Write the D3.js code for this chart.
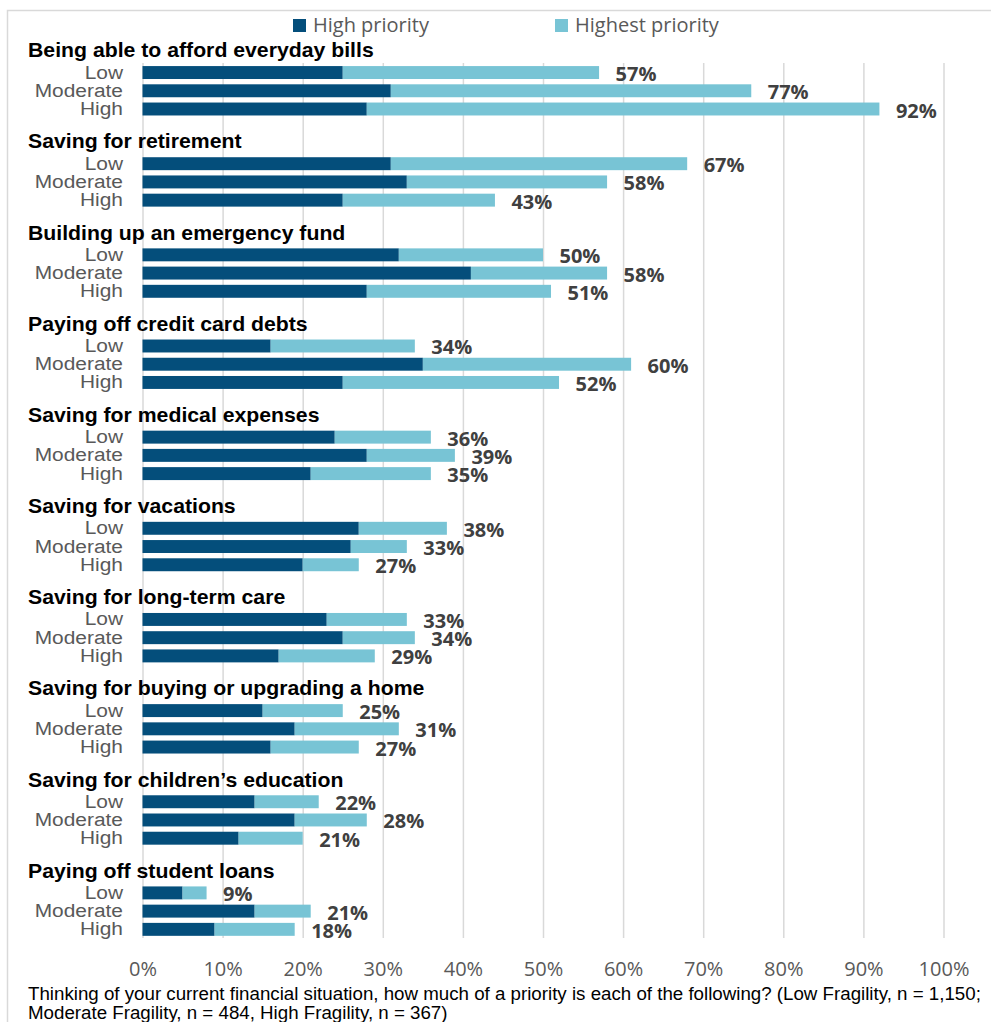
<!DOCTYPE html>
<html lang="en">

<head>
  <meta charset='utf-8'>
  <script src='https://cdn.jsdelivr.net/npm/d3@7/dist/d3.min.js'></script>
  <title>Financial priorities by fragility</title>
  <style>
    body {
      margin: 0;
      background: #fff;
    }

    .frame {
      fill: none;
      stroke: #d9d9d9;
      stroke-width: 1.5px;
    }

    .grid line {
      stroke: #d9d9d9;
      stroke-width: 1.5px;
    }

    .grid path,
    .axis path,
    .axis line {
      display: none;
    }

    .axis text {
      font-family: 'Open Sans', sans-serif;
      font-size: 20px;
      fill: #595959;
    }

    .group-title {
      font-family: 'Liberation Sans', Arial, sans-serif;
      font-weight: bold;
      font-size: 19.5px;
      fill: #000;
    }

    .row-label {
      font-family: 'Liberation Sans', Arial, sans-serif;
      font-size: 19px;
      fill: #595959;
    }

    .total {
      font-family: 'Open Sans', sans-serif;
      font-weight: bold;
      font-size: 20px;
      fill: #404040;
    }

    .legend text {
      font-family: 'Open Sans', sans-serif;
      font-size: 20px;
      fill: #595959;
    }

    .note {
      font-family: 'Liberation Sans', Arial, sans-serif;
      font-size: 17.5px;
      fill: #000;
    }
  </style>
</head>

<body>
  <div id='chart'></div>
  <script>
    // Chart data.

    var groups = [
      'Being able to afford everyday bills',
      'Saving for retirement',
      'Building up an emergency fund',
      'Paying off credit card debts',
      'Saving for medical expenses',
      'Saving for vacations',
      'Saving for long-term care',
      'Saving for buying or upgrading a home',
      'Saving for children\u2019s education',
      'Paying off student loans'
    ];

    var levels = ['Low', 'Moderate', 'High'];

    // "High priority" share per group, for Low / Moderate / High fragility.
    var highPriority = [
      [25, 31, 28],
      [31, 33, 25],
      [32, 41, 28],
      [16, 35, 25],
      [24, 28, 21],
      [27, 26, 20],
      [23, 25, 17],
      [15, 19, 16],
      [14, 19, 12],
      [5, 14, 9]
    ];

    // "Highest priority" share per group.
    var highestPriority = [
      [32, 45, 64],
      [37, 25, 19],
      [18, 17, 23],
      [18, 26, 27],
      [12, 11, 15],
      [11, 7, 7],
      [10, 9, 12],
      [10, 13, 11],
      [8, 9, 8],
      [3, 7, 10]
    ];

    // Totals as printed next to the bars.
    var totalLabels = [
      [57, 77, 92],
      [67, 58, 43],
      [50, 58, 51],
      [34, 60, 52],
      [36, 39, 35],
      [38, 33, 27],
      [33, 34, 29],
      [25, 31, 27],
      [22, 28, 21],
      [9, 21, 18]
    ];

    var xTicks = [0, 10, 20, 30, 40, 50, 60, 70, 80, 90, 100];

    var seriesNames = ['High priority', 'Highest priority'];
    var colors = ['#044e7b', '#78c4d5'];

    var noteLines = [
      'Thinking of your current financial situation, how much of a priority is each of the following? (Low Fragility, n = 1,150;',
      'Moderate Fragility, n = 484, High Fragility, n = 367)'
    ];

    // Flatten into one row per bar.

    var rows = [];
    groups.forEach(function(g, gi) {
      levels.forEach(function(l, li) {
        rows.push({
          group: gi,
          level: l,
          slot: gi * 5 + li + 1,
          high: highPriority[gi][li],
          highest: highestPriority[gi][li],
          label: totalLabels[gi][li]
        });
      });
    });

    var width = 991,
      height = 1022;

    var svg = d3.select('#chart')
      .append('svg')
      .attr('width', width)
      .attr('height', height);

    // Outer frame (only top and left edges are visible).
    svg.append('path')
      .attr('class', 'frame')
      .attr('d', 'M7.5,1030V10.5H1000');

    var xScale = d3.scaleLinear()
      .domain([0, 100])
      .range([142.5, 943.5]);

    // 5 slots per group: title, Low, Moderate, High, gap.
    var yScale = d3.scaleBand()
      .domain(d3.range(groups.length * 5))
      .range([45.2, 956.7])
      .paddingInner(0.29)
      .paddingOuter(0.145);

    var bw = yScale.bandwidth();

    // Gridlines.
    svg.append('g')
      .attr('class', 'grid')
      .attr('transform', 'translate(0,938)')
      .call(d3.axisBottom(xScale)
        .tickValues(xTicks)
        .tickSize(-875)
        .tickFormat(''));

    // Axis labels.
    svg.append('g')
      .attr('class', 'axis')
      .attr('transform', 'translate(0,950)')
      .call(d3.axisBottom(xScale)
        .tickValues(xTicks)
        .tickSize(0)
        .tickPadding(12)
        .tickFormat(function(d) {
          return d + '%';
        }));

    // Stacked bars.
    var stack = d3.stack()
      .keys(['high', 'highest']);

    var series = stack(rows);

    svg.append('g')
      .selectAll('g')
      .data(series)
      .enter()
      .append('g')
      .attr('fill', function(d, i) {
        return colors[i];
      })
      .selectAll('rect')
      .data(function(d) {
        return d;
      })
      .enter()
      .append('rect')
      .attr('x', function(d) {
        return xScale(d[0]);
      })
      .attr('y', function(d) {
        return yScale(d.data.slot);
      })
      .attr('width', function(d) {
        return xScale(d[1]) - xScale(d[0]);
      })
      .attr('height', bw);

    // Total labels.
    svg.append('g')
      .selectAll('text')
      .data(rows)
      .enter()
      .append('text')
      .attr('class', 'total')
      .attr('x', function(d) {
        return xScale(d.high + d.highest) + 16.5;
      })
      .attr('y', function(d) {
        return yScale(d.slot) + bw / 2 + 8.5;
      })
      .text(function(d) {
        return d.label + '%';
      });

    // Row labels (Low / Moderate / High).
    svg.append('g')
      .selectAll('text')
      .data(rows)
      .enter()
      .append('text')
      .attr('class', 'row-label')
      .attr('text-anchor', 'end')
      .attr('transform', function(d) {
        return 'translate(123,' + (yScale(d.slot) + bw / 2 + 6) + ') scale(1.1,1)';
      })
      .text(function(d) {
        return d.level;
      });

    // Group titles.
    svg.append('g')
      .selectAll('text')
      .data(groups)
      .enter()
      .append('text')
      .attr('class', 'group-title')
      .attr('transform', function(d, i) {
        return 'translate(28,' + (yScale(i * 5) + bw / 2 + 3) + ') scale(1.09,1)';
      })
      .text(function(d) {
        return d;
      });

    // Legend.
    var legendX = [293, 555];

    var legend = svg.append('g')
      .attr('class', 'legend')
      .selectAll('g')
      .data(seriesNames)
      .enter()
      .append('g')
      .attr('transform', function(d, i) {
        return 'translate(' + legendX[i] + ',19)';
      });

    legend.append('rect')
      .attr('width', 13)
      .attr('height', 13)
      .attr('fill', function(d, i) {
        return colors[i];
      });

    legend.append('text')
      .attr('x', 20)
      .attr('y', 13)
      .text(function(d) {
        return d;
      });

    // Footnote.
    svg.append('g')
      .selectAll('text')
      .data(noteLines)
      .enter()
      .append('text')
      .attr('class', 'note')
      .attr('transform', function(d, i) {
        return 'translate(28,' + (1000 + i * 18.5) + ') scale(1.07,1)';
      })
      .text(function(d) {
        return d;
      });
  </script>
</body>

</html>
